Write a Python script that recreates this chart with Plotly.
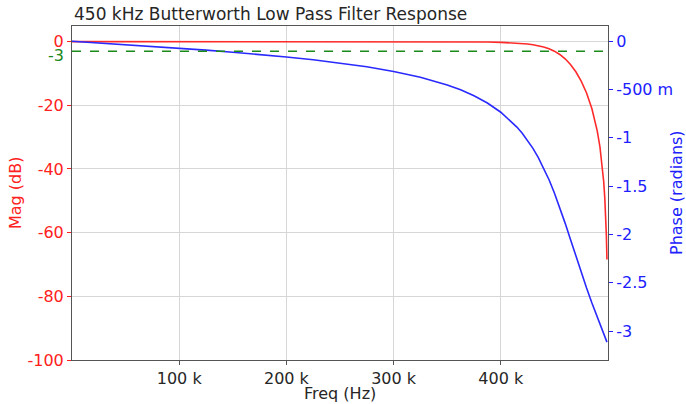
import plotly.graph_objects as go

# Frequency (Hz) sample points
freq_hz = [0, 25000, 50000, 75000, 100000, 125000, 150000, 175000, 200000,
           225000, 250000, 275000, 300000, 325000, 350000, 362500, 375000, 387500,
           400000, 410000, 415000, 420000, 425000, 430000, 435000, 440000, 445000,
           450000, 455000, 460000, 465000, 470000, 475000, 480000, 485000, 490000,
           492500, 495000, 496000, 497000, 498000, 498500, 499020]

# Magnitude response (dB)
mag_db = [0.0, 0.0, 0.0, 0.0, -0.00003, -0.00008, -0.00018, -0.00039, -0.00076,
          -0.0015, -0.0027, -0.0051, -0.0098, -0.0193, -0.0404, -0.0601, -0.0919, -0.1451,
          -0.2385, -0.3676, -0.4624, -0.5873, -0.7534, -0.9763, -1.278, -1.6885, -2.2485,
          -3.0103, -4.0376, -5.403, -7.1899, -9.4836, -12.4061, -16.1451, -21.0797, -28.1032,
          -33.0988, -40.143, -44.019, -49.017, -56.061, -61.058, -68.453]

# Phase response (radians)
phase_rad = [0.0, -0.01763, -0.03548, -0.0538, -0.07284, -0.09291, -0.11437, -0.13769,
             -0.16345, -0.19246, -0.22583, -0.2652, -0.31303, -0.37331, -0.45289, -0.50353,
             -0.56459, -0.63987, -0.73514, -0.83162, -0.8888, -0.95331, -1.02645, -1.10962,
             -1.20437, -1.31208, -1.43415, -1.5708, -1.72117, -1.88266, -2.05152, -2.22234,
             -2.39077, -2.55335, -2.70877, -2.85739, -2.92964, -3.00087, -3.02915, -3.05734,
             -3.08546, -3.0995, -3.1141]

cutoff_db = -3

x_tick_vals = [100000, 200000, 300000, 400000]
x_tick_text = ["100 k", "200 k", "300 k", "400 k"]
mag_tick_vals = [0, -20, -40, -60, -80, -100]
mag_tick_text = ["0", "-20", "-40", "-60", "-80", "-100"]
phase_tick_vals = [0, -0.5, -1, -1.5, -2, -2.5, -3]
phase_tick_text = ["0", "-500 m", "-1", "-1.5", "-2", "-2.5", "-3"]

FONT = "DejaVu Sans"
RED = "#ff2020"
BLUE = "#2020ff"
GREEN = "#1a8a1a"
DARK = "#262626"
GRID = "#d6d6d6"
SPINE = "#555555"
FS = 16

# plot area in pixels (matches reference): left 72, right 608, top 26, bottom 360
L, R, T, B = 72, 608, 26, 360
W, H = 686, 404
PW, PH = R - L, B - T

fig = go.Figure()

fig.add_trace(go.Scatter(x=freq_hz, y=mag_db, mode="lines",
                         line=dict(color="#ff2a2a", width=1.6),
                         yaxis="y", showlegend=False))
fig.add_trace(go.Scatter(x=freq_hz, y=phase_rad, mode="lines",
                         line=dict(color="#2a2aff", width=1.6),
                         yaxis="y2", showlegend=False))

fig.add_shape(type="line", xref="paper", x0=0, x1=1, yref="y", y0=cutoff_db, y1=cutoff_db,
              line=dict(color=GREEN, width=1.5, dash="dash"))

fig.add_annotation(xref="paper", x=0, yref="y", y=cutoff_db, text=str(cutoff_db),
                   showarrow=False, xanchor="right", yanchor="middle", xshift=-6, yshift=-4,
                   font=dict(family=FONT, size=FS, color=GREEN))

# title and axis titles
fig.add_annotation(xref="paper", yref="paper", x=0, y=(B - 14) / PH,
                   text="450 kHz Butterworth Low Pass Filter Response",
                   showarrow=False, xanchor="left", yanchor="middle",
                   font=dict(family=FONT, size=17, color=DARK))
fig.add_annotation(xref="paper", yref="paper", x=0.5, y=(B - 393) / PH,
                   text="Freq (Hz)", showarrow=False, xanchor="center", yanchor="middle",
                   font=dict(family=FONT, size=FS, color=DARK))
fig.add_annotation(xref="paper", yref="paper", x=(15 - L) / PW, y=0.5,
                   text="Mag (dB)", textangle=-90, showarrow=False,
                   xanchor="center", yanchor="middle",
                   font=dict(family=FONT, size=FS, color=RED))
fig.add_annotation(xref="paper", yref="paper", x=(676 - L) / PW, y=0.5,
                   text="Phase (radians)", textangle=-90, showarrow=False,
                   xanchor="center", yanchor="middle",
                   font=dict(family=FONT, size=FS, color=BLUE))

fig.update_layout(
    width=W, height=H,
    margin=dict(l=L, r=W - R, t=T, b=H - B, autoexpand=False),
    paper_bgcolor="white", plot_bgcolor="white",
    font=dict(family=FONT, size=FS, color=DARK),
    xaxis=dict(range=[0, 500000], tickvals=x_tick_vals, ticktext=x_tick_text,
               automargin=False,
               showgrid=True, gridcolor=GRID, gridwidth=1, zeroline=False,
               showline=True, linecolor=SPINE, linewidth=1, mirror=True,
               ticks="outside", ticklen=4, tickcolor=SPINE,
               tickfont=dict(family=FONT, size=FS, color=DARK)),
    yaxis=dict(range=[-100, 4.9], tickvals=mag_tick_vals, ticktext=mag_tick_text,
               automargin=False,
               showgrid=True, gridcolor=GRID, gridwidth=1, zeroline=False,
               showline=True, linecolor=SPINE, linewidth=1,
               ticks="outside", ticklen=4, tickcolor=RED,
               tickfont=dict(family=FONT, size=FS, color=RED)),
    yaxis2=dict(range=[-3.2992, 0.1571], tickvals=phase_tick_vals, ticktext=phase_tick_text,
                automargin=False,
                overlaying="y", side="right",
                showgrid=False, zeroline=False,
                showline=True, linecolor=SPINE, linewidth=1,
                ticks="outside", ticklen=4, tickcolor=BLUE,
                tickfont=dict(family=FONT, size=FS, color=BLUE)),
)

fig.write_html("out.html", config={"displayModeBar": False},
               post_script="document.body.style.margin='0';document.body.style.padding='0';")
